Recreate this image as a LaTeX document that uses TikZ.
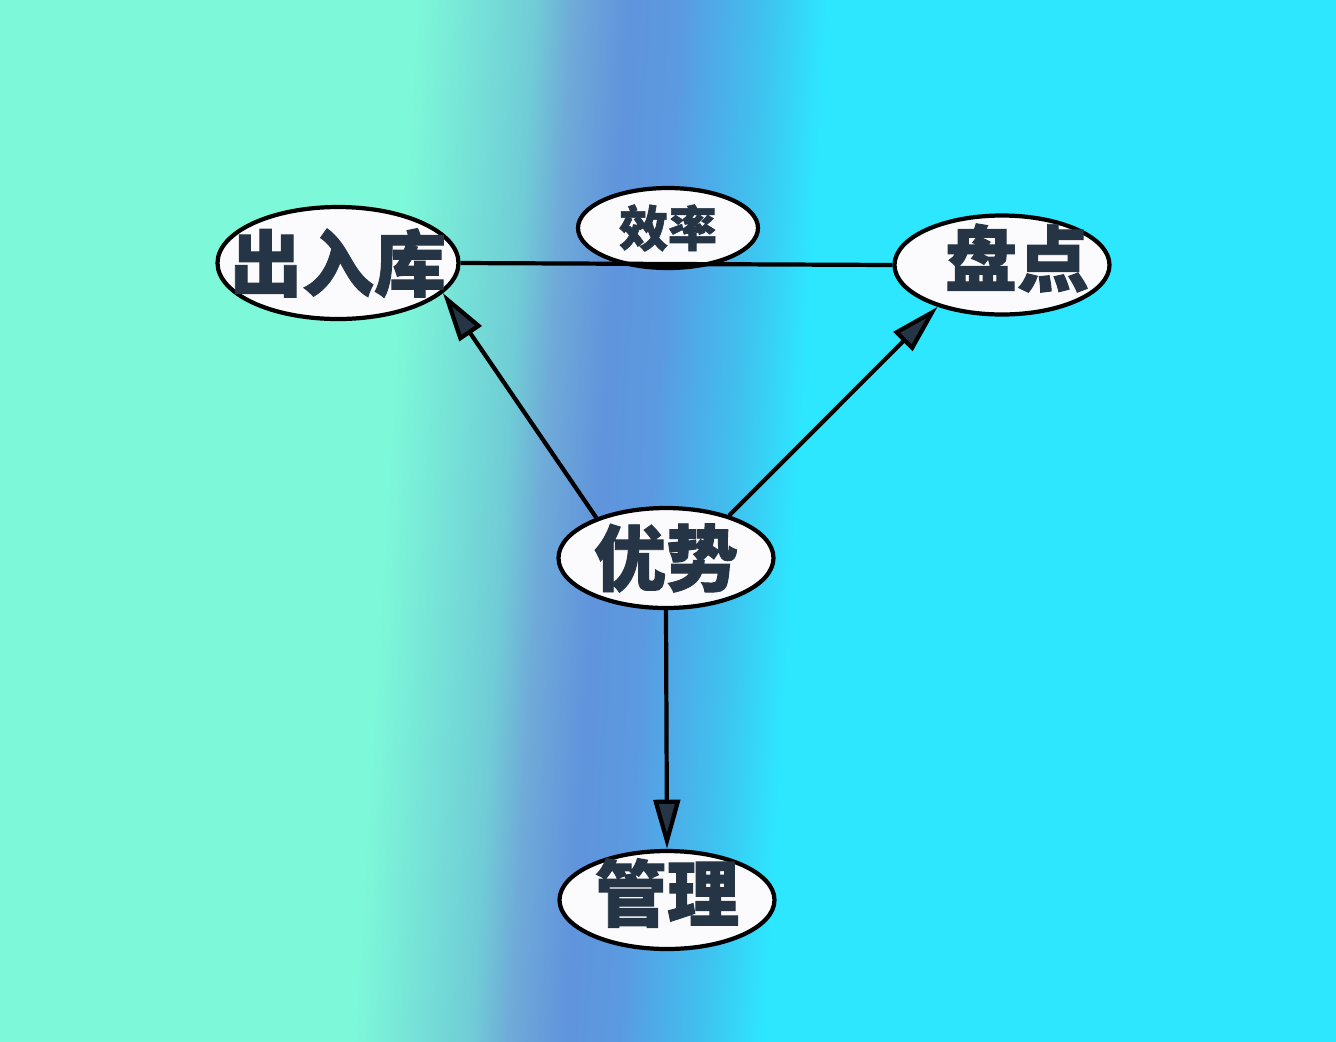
\documentclass[tikz,border=0pt]{standalone}
\usepackage{fontspec}
\newfontfamily\cjk{Noto Sans CJK SC}[BoldFeatures={FakeBold=1.3}]
\usepackage{xcolor}
\usetikzlibrary{arrows.meta,shapes.geometric}
\definecolor{bgmint}{HTML}{7DF8D8}
\definecolor{bgteal}{HTML}{70CCD6}
\definecolor{bggrey}{HTML}{6FAAD8}
\definecolor{bgviolet}{HTML}{6094DC}
\definecolor{bgblue}{HTML}{5B9AE0}
\definecolor{bgazure}{HTML}{52A5E6}
\definecolor{bgsky}{HTML}{40C0EE}
\definecolor{bgcyan}{HTML}{2DE6FF}
\definecolor{ink}{HTML}{263545}
\definecolor{paper}{HTML}{FBFBFD}
\pgfdeclarehorizontalshading{backdrop}{100bp}{color(0bp)=(bgmint); color(39.3bp)=(bgmint); color(43.75bp)=(bgteal); color(45.2bp)=(bggrey); color(47.3bp)=(bgviolet); color(49.36bp)=(bgblue); color(50.19bp)=(bgazure); color(52.36bp)=(bgsky); color(54.8bp)=(bgcyan); color(100bp)=(bgcyan)}
\tikzset{
  bubble/.style={ellipse,draw=black,fill=paper,line width=1.2pt,inner sep=0pt},
  word/.style={font=\cjk\bfseries\fontsize{20.5}{20.5}\selectfont,text=ink,inner sep=0pt},
  wordsm/.style={word,font=\cjk\bfseries\fontsize{13.9}{13.9}\selectfont},
  arr/.style={-{Triangle[length=14pt,width=7.5pt,fill=ink]},line width=1.2pt,color=black},
  link/.style={line width=1.2pt,color=black},
}
\begin{document}
\begin{tikzpicture}
\useasboundingbox (0,0) rectangle (13.36,-10.41);
\shade[shading=backdrop,shading angle=-3.5] (0,0) rectangle (13.36,-10.41);
\node[bubble,minimum width=2.41cm,minimum height=1.12cm,label={[word]center:出入库}] (churuku) at (3.38,-2.63) {};
\node[bubble,minimum width=2.15cm,minimum height=0.99cm,label={[word,xshift=0.15cm,yshift=0.07cm]center:盘点}] (pandian) at (10.02,-2.65) {};
\node[bubble,minimum width=2.15cm,minimum height=1.00cm,label={[word]center:优势}] (youshi) at (6.66,-5.58) {};
\node[bubble,minimum width=2.15cm,minimum height=0.98cm,label={[word,yshift=0.07cm]center:管理}] (guanli) at (6.67,-9.00) {};
\node[bubble,minimum width=1.80cm,minimum height=0.80cm,label={[wordsm]center:效率}] (xiaolv) at (6.68,-2.28) {};
\draw[link] (churuku.east) -- (pandian.west);
\foreach \src/\dst in {youshi.150/churuku.-16,youshi.34/pandian.-147,youshi.south/guanli.north}
  \draw[arr] (\src) -- (\dst);
\end{tikzpicture}
\end{document}
